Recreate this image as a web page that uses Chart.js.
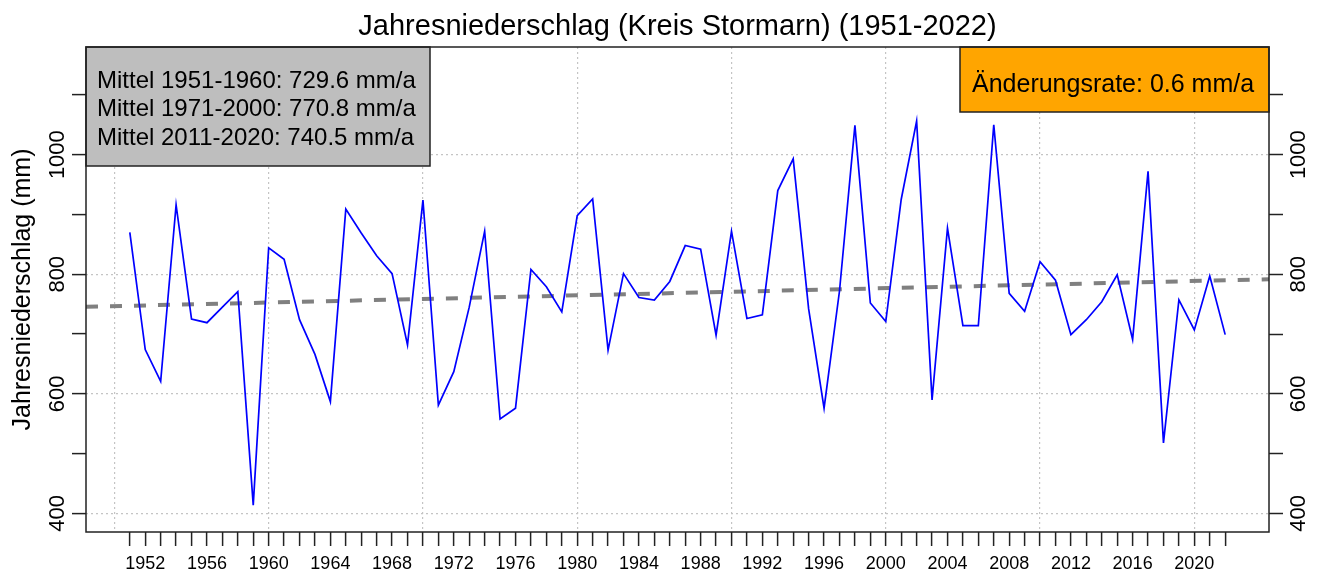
<!DOCTYPE html>
<html>
<head>
<meta charset="utf-8">
<title>Jahresniederschlag (Kreis Stormarn)</title>
<script src="https://cdn.jsdelivr.net/npm/chart.js@4/dist/chart.umd.min.js"></script>
<style>
  html, body { margin: 0; padding: 0; background: #fff; }
  #wrap { width: 1319px; height: 574px; }
</style>
</head>
<body>
<div id="wrap"><canvas id="chart" width="1319" height="574"></canvas></div>
<script>
const titleText = 'Jahresniederschlag (Kreis Stormarn) (1951-2022)';

const years = [
  1951, 1952, 1953, 1954, 1955, 1956, 1957, 1958, 1959, 1960,
  1961, 1962, 1963, 1964, 1965, 1966, 1967, 1968, 1969, 1970,
  1971, 1972, 1973, 1974, 1975, 1976, 1977, 1978, 1979, 1980,
  1981, 1982, 1983, 1984, 1985, 1986, 1987, 1988, 1989, 1990,
  1991, 1992, 1993, 1994, 1995, 1996, 1997, 1998, 1999, 2000,
  2001, 2002, 2003, 2004, 2005, 2006, 2007, 2008, 2009, 2010,
  2011, 2012, 2013, 2014, 2015, 2016, 2017, 2018, 2019, 2020,
  2021, 2022
];

// annual precipitation in mm
const precip = [
  870, 674, 621, 916, 725, 719, 745, 771, 414, 844,
  825, 724, 666, 587, 909, 869, 831, 801, 682, 924,
  581, 637, 745, 872, 558, 576, 808, 779, 737, 898,
  926, 673, 801, 761, 757, 788, 848, 842, 698, 872,
  726, 732, 940, 993, 742, 576, 772, 1049, 752, 721,
  925, 1056, 590, 877, 714, 714, 1050, 768, 738, 821,
  790, 699, 724, 754, 799, 691, 972, 518, 757, 707,
  797, 699
];

// linear trend, read at both ends of the plot
const trendYears = [1948.16, 2024.84];
const trendValues = [745.6, 791.6];

const xMin = 1948.16, xMax = 2024.84;
const yMin = 369, yMax = 1180;

const yTicks = [400, 500, 600, 700, 800, 900, 1000, 1100];
const yLabels = [400, 600, 800, 1000];
const xLabelYears = [1952, 1956, 1960, 1964, 1968, 1972, 1976, 1980, 1984, 1988,
  1992, 1996, 2000, 2004, 2008, 2012, 2016, 2020];
const xTickYears = Array.from({ length: 73 }, (_, i) => 1950 + i);

const meanLines = [
  'Mittel 1951-1960: 729.6 mm/a',
  'Mittel 1971-2000: 770.8 mm/a',
  'Mittel 2011-2020: 740.5 mm/a'
];
const rateText = 'Änderungsrate: 0.6 mm/a';

const FONT = '"Liberation Sans", Arial, sans-serif';
const GRID = '#c4c4c4';
Chart.defaults.font.family = FONT;
Chart.defaults.color = '#000';

const annotations = {
  id: 'annotations',
  afterDatasetsDraw(chart) {
    const { ctx, chartArea: a } = chart;
    ctx.save();

    // title, centred on the plot
    ctx.fillStyle = '#000';
    ctx.font = '29px ' + FONT;
    ctx.textAlign = 'center';
    ctx.textBaseline = 'alphabetic';
    ctx.fillText(titleText, (a.left + a.right) / 2, 35);

    // means box (top left)
    ctx.fillStyle = '#bebebe';
    ctx.fillRect(a.left, a.top, 344, 119);
    ctx.strokeStyle = '#222';
    ctx.lineWidth = 1.5;
    ctx.strokeRect(a.left, a.top, 344, 119);
    ctx.fillStyle = '#000';
    ctx.font = '24px ' + FONT;
    ctx.textAlign = 'left';
    meanLines.forEach((t, i) => ctx.fillText(t, a.left + 11, a.top + 41 + i * 28.4));

    // rate box (top right)
    ctx.fillStyle = '#ffa500';
    ctx.fillRect(a.right - 309, a.top, 309, 65);
    ctx.strokeRect(a.right - 309, a.top, 309, 65);
    ctx.fillStyle = '#000';
    ctx.font = '25px ' + FONT;
    ctx.fillText(rateText, a.right - 297, a.top + 45);

    // plot frame
    ctx.strokeStyle = '#222';
    ctx.lineWidth = 1.5;
    ctx.strokeRect(a.left, a.top, a.right - a.left, a.bottom - a.top);
    ctx.restore();
  }
};

const yAxisBase = {
  type: 'linear',
  min: yMin,
  max: yMax,
  afterBuildTicks: (scale) => { scale.ticks = yTicks.map(v => ({ value: v })); },
  border: { display: false, dash: [2, 3] },
  ticks: {
    autoSkip: false,
    minRotation: 90,
    maxRotation: 90,
    crossAlign: 'center',
    font: { size: 22 },
    color: '#000',
    callback: (v) => yLabels.includes(v) ? String(v) : ''
  }
};

new Chart(document.getElementById('chart'), {
  type: 'line',
  data: {
    datasets: [
      {
        label: 'Niederschlag',
        data: years.map((yr, i) => ({ x: yr, y: precip[i] })),
        borderColor: '#0000ff',
        borderWidth: 1.7,
        pointRadius: 0,
        tension: 0,
        fill: false
      },
      {
        label: 'Trend',
        data: trendYears.map((yr, i) => ({ x: yr, y: trendValues[i] })),
        borderColor: '#808080',
        borderWidth: 4,
        borderDash: [12, 12],
        pointRadius: 0,
        fill: false
      }
    ]
  },
  options: {
    responsive: false,
    animation: false,
    devicePixelRatio: 1,
    layout: { padding: { top: 47, left: 0, right: 0, bottom: 0 } },
    plugins: {
      legend: { display: false },
      tooltip: { enabled: false },
      title: { display: false }
    },
    scales: {
      x: {
        type: 'linear',
        position: 'bottom',
        min: xMin,
        max: xMax,
        afterBuildTicks: (scale) => { scale.ticks = xTickYears.map(v => ({ value: v })); },
        afterFit: (scale) => { scale.height = 42; },
        border: { display: false, dash: [2, 3] },
        grid: {
          color: (c) => c.tick && c.tick.value % 10 === 0 ? GRID : 'rgba(0,0,0,0)',
          tickColor: (c) => c.tick && c.tick.value >= 1951 ? '#222' : 'rgba(0,0,0,0)',
          tickLength: 14,
          tickWidth: 1.5,
          lineWidth: 1.2
        },
        ticks: {
          autoSkip: false,
          minRotation: 0,
          maxRotation: 0,
          padding: 7,
          font: { size: 18 },
          color: '#000',
          callback: (v) => xLabelYears.includes(v) ? String(v) : ''
        }
      },
      y: {
        ...yAxisBase,
        position: 'left',
        afterFit: (scale) => { scale.width = 86; },
        grid: {
          color: (c) => c.tick && c.tick.value % 200 === 0 ? GRID : 'rgba(0,0,0,0)',
          tickColor: '#222',
          tickLength: 14,
          tickWidth: 1.5,
          lineWidth: 1.2
        },
        ticks: { ...yAxisBase.ticks, padding: -10 },
        title: {
          display: true,
          text: 'Jahresniederschlag (mm)',
          font: { size: 25 },
          color: '#000',
          padding: { top: 8, bottom: 0 }
        }
      },
      y2: {
        ...yAxisBase,
        position: 'right',
        afterFit: (scale) => { scale.width = 50; },
        grid: {
          drawOnChartArea: false,
          tickColor: '#222',
          tickLength: 14,
          tickWidth: 1.5
        },
        ticks: { ...yAxisBase.ticks, padding: -8.5 }
      }
    }
  },
  plugins: [annotations]
});
</script>
</body>
</html>
